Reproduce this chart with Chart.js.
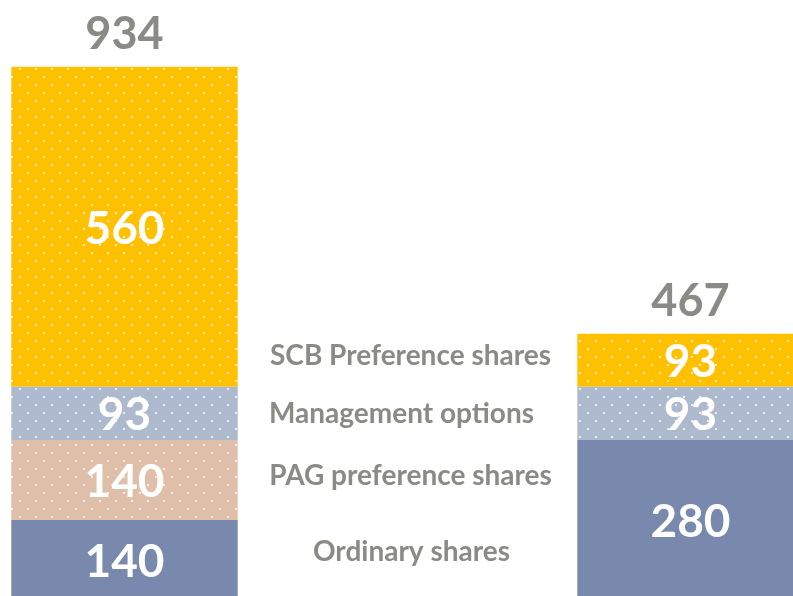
<!DOCTYPE html>
<html>
<head>
<meta charset="utf-8">
<script src="https://cdn.jsdelivr.net/npm/chart.js@4"></script>
<style>
    html, body { margin: 0; padding: 0; background: #ffffff; overflow: hidden; }
    body { width: 793px; height: 596px; position: relative; }
    #wrap { position: absolute; left: -17px; top: 0; width: 849px; height: 600px; }
</style>
</head>
<body>
<div id="wrap"><canvas id="sharesGraph"></canvas></div>
<script>
var categories = ["Before", "", "After"];
var seriesNames = ["Ordinary shares", "PAG preference shares", "Management options", "SCB Preference shares"];
var ordinaryShares = [140, null, 280];
var pagPreferenceShares = [140, null, null];
var managementOptions = [93, null, 93];
var scbPreferenceShares = [560, null, 93];
var totals = [934, null, 467];

var textGray = "#8a8b85";
var fontName = "Lato, 'Open Sans', sans-serif";

function dotted_pattern(color, dots) {
    var c = document.createElement("canvas");
    c.width = 16;
    c.height = 16;
    var ctx = c.getContext("2d");
    ctx.fillStyle = color;
    ctx.fillRect(0, 0, 16, 16);
    if (dots) {
        ctx.fillStyle = "rgba(255,255,255,0.75)";
        ctx.fillRect(4, 4, 2, 2);
        ctx.fillRect(12, 12, 2, 2);
    }
    return ctx.createPattern(c, "repeat");
}

// labels written in the empty middle column: pixel y and x shift of each line
var middleLabelY = [552, 476, 414, 356];
var middleLabelDx = [4, 3, -6, 3];

var barLabels = {
    id: "barLabels",
    afterDatasetsDraw(chart) {
        var ctx = chart.ctx;
        ctx.save();
        ctx.textAlign = "center";
        ctx.textBaseline = "middle";
        // values inside segments
        ctx.fillStyle = "#ffffff";
        ctx.font = "bold 46px " + fontName;
        chart.data.datasets.forEach((ds, i) => {
            chart.getDatasetMeta(i).data.forEach((bar, j) => {
                if (ds.data[j] == null) return;
                var y = (bar.y + bar.base) / 2;
                ctx.fillText(ds.data[j], bar.x, Math.min(y, 563) + 2);
            });
        });
        // totals on top
        ctx.fillStyle = textGray;
        ctx.font = "bold 45px " + fontName;
        var top = chart.getDatasetMeta(chart.data.datasets.length - 1).data;
        totals.forEach((t, j) => {
            if (t == null) return;
            ctx.fillText(t, top[j].x, top[j].y - 32);
        });
        // series names in the middle column
        ctx.font = "bold 28px " + fontName;
        var midX = chart.scales.x.getPixelForValue(1);
        seriesNames.forEach((name, i) => {
            ctx.fillText(name, midX + middleLabelDx[i], middleLabelY[i]);
        });
        ctx.restore();
    }
};

var sharesGraph = new Chart("sharesGraph", {
    type: "bar",
    data: {
        labels: categories,
        datasets: [
            { label: seriesNames[0], data: ordinaryShares, backgroundColor: dotted_pattern("#7889ad", false) },
            { label: seriesNames[1], data: pagPreferenceShares, backgroundColor: dotted_pattern("#dfbfaa", true) },
            { label: seriesNames[2], data: managementOptions, backgroundColor: dotted_pattern("#adb9cc", true) },
            { label: seriesNames[3], data: scbPreferenceShares, backgroundColor: dotted_pattern("#ffc000", true) },
        ],
    },
    options: {
        responsive: true,
        maintainAspectRatio: false,
        animation: false,
        layout: { padding: 0 },
        datasets: { bar: { categoryPercentage: 1, barPercentage: 0.8, borderWidth: 0 } },
        plugins: { legend: { display: false }, tooltip: { enabled: false } },
        scales: {
            x: { stacked: true, display: false },
            y: { stacked: true, display: false, min: 0, max: 1050 },
        },
    },
    plugins: [barLabels],
});
</script>
</body>
</html>
